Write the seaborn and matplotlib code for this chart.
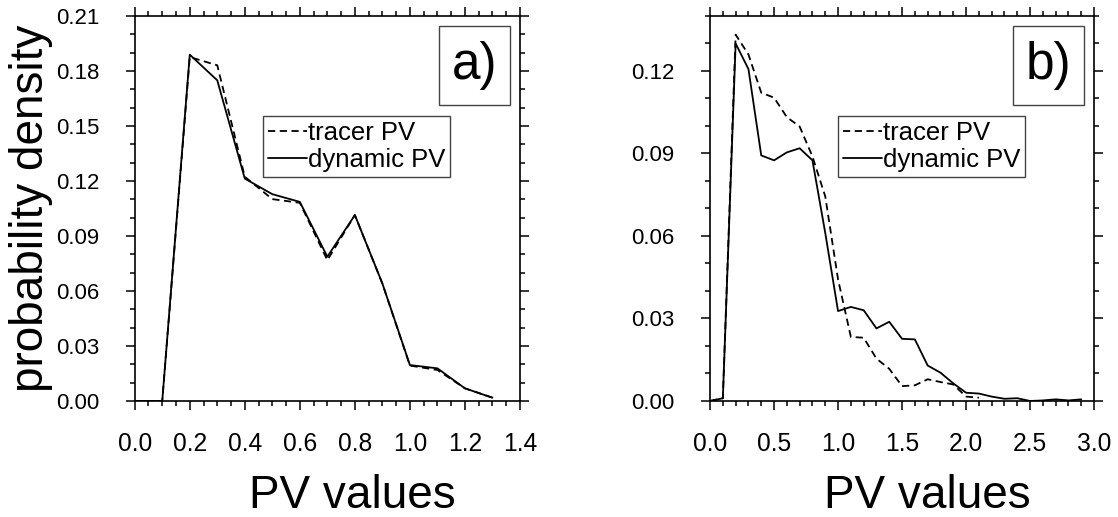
import matplotlib
matplotlib.use("Agg")
import matplotlib.pyplot as plt
import matplotlib.ticker as mticker
from matplotlib.patches import Rectangle
import seaborn as sns
import pandas as pd

# ---------------- data ----------------
pv_a = [0.0, 0.1, 0.2, 0.3, 0.4, 0.5, 0.6, 0.7, 0.8, 0.9, 1.0, 1.1, 1.2, 1.3]
tracer_a = [0.0, 0.0, 0.1876, 0.1831, 0.1223, 0.1101, 0.1081, 0.0768, 0.1014,
            0.0640, 0.0193, 0.0169, 0.0069, 0.0018]
dynamic_a = [0.0, 0.0, 0.1889, 0.1749, 0.1213, 0.1128, 0.1086, 0.0787, 0.1014,
             0.0641, 0.0196, 0.0178, 0.0069, 0.0018]

pv_b_tracer = [0.0, 0.1, 0.2, 0.3, 0.4, 0.5, 0.6, 0.7, 0.8, 0.9, 1.0, 1.1,
               1.2, 1.3, 1.4, 1.5, 1.6, 1.7, 1.8, 1.9, 2.0, 2.1]
tracer_b = [0.0, 0.001, 0.1332, 0.1260, 0.1121, 0.1103, 0.1032, 0.0998, 0.0889,
            0.0744, 0.0442, 0.0233, 0.0230, 0.0154, 0.0117, 0.0054, 0.0057,
            0.0079, 0.0069, 0.0060, 0.0016, 0.0012]
pv_b_dynamic = [0.0, 0.1, 0.2, 0.3, 0.4, 0.5, 0.6, 0.7, 0.8, 0.9, 1.0, 1.1,
                1.2, 1.3, 1.4, 1.5, 1.6, 1.7, 1.8, 1.9, 2.0, 2.1, 2.2, 2.3,
                2.4, 2.5, 2.6, 2.7, 2.8, 2.9]
dynamic_b = [0.0, 0.001, 0.1300, 0.1207, 0.0893, 0.0875, 0.0904, 0.0919, 0.0875,
             0.0611, 0.0327, 0.0342, 0.0330, 0.0264, 0.0288, 0.0226, 0.0224,
             0.0129, 0.0103, 0.0064, 0.0030, 0.0027, 0.0016, 0.0008, 0.0010,
             0.0000, 0.0002, 0.0006, 0.0002, 0.0006]

series_labels = ["tracer PV", "dynamic PV"]
panel_labels = ["a)", "b)"]
x_label = "PV values"
y_label = "probability density"

# ---------------- style ----------------
sns.set_theme(style="ticks")
plt.rcParams["font.family"] = ["Liberation Sans", "DejaVu Sans"]
plt.rcParams["axes.linewidth"] = 1.2
for key in ["text.color", "axes.labelcolor", "xtick.color", "ytick.color",
            "axes.edgecolor"]:
    plt.rcParams[key] = "black"

fig = plt.figure(figsize=(11.18, 5.17), dpi=100)
ax_a = fig.add_axes([0.1205, 0.2244, 0.3446, 0.7447])
ax_b = fig.add_axes([0.6351, 0.2244, 0.3435, 0.7447])

dash = (0, (4, 2.5))

def draw(ax, xt, yt, xd, yd):
    sns.lineplot(x=xt, y=yt, ax=ax, color="black", lw=1.3, linestyle=dash,
                 label=series_labels[0])
    sns.lineplot(x=xd, y=yd, ax=ax, color="black", lw=1.3, linestyle="-",
                 label=series_labels[1])

draw(ax_a, pv_a, tracer_a, pv_a, dynamic_a)
draw(ax_b, pv_b_tracer, tracer_b, pv_b_dynamic, dynamic_b)

# axis limits / ticks
ax_a.set_xlim(0, 1.4)
ax_a.set_ylim(0, 0.21)
ax_a.xaxis.set_major_locator(mticker.MultipleLocator(0.2))
ax_a.xaxis.set_minor_locator(mticker.MultipleLocator(0.05))

ax_b.set_xlim(0, 3.0)
ax_b.set_ylim(0, 0.14)
ax_b.xaxis.set_major_locator(mticker.MultipleLocator(0.5))
ax_b.xaxis.set_minor_locator(mticker.MultipleLocator(0.1))

for ax, lab in zip([ax_a, ax_b], panel_labels):
    ax.yaxis.set_major_locator(mticker.MultipleLocator(0.03))
    ax.yaxis.set_minor_locator(mticker.MultipleLocator(0.01))
    ax.xaxis.set_major_formatter(mticker.FormatStrFormatter("%.1f"))
    ax.yaxis.set_major_formatter(mticker.FormatStrFormatter("%.2f"))
    ax.tick_params(which="both", direction="out", top=True, right=True,
                   color="black", labelcolor="black", width=1.1)
    ax.tick_params(which="major", length=6.5)
    ax.tick_params(which="minor", length=3.6)
    ax.tick_params(axis="x", which="major", labelsize=17.7, pad=16)
    ax.tick_params(axis="y", which="major", labelsize=16, pad=19)
    for s in ax.spines.values():
        s.set_color("black")
        s.set_linewidth(1.2)
    ax.set_xlabel(x_label, fontsize=33, color="black")
    ax.xaxis.set_label_coords(0.566, -0.19)
    ax.set_ylabel("")

    leg = ax.legend(loc="upper left", bbox_to_anchor=(0.333, 0.740),
                    fontsize=18.5, frameon=True, fancybox=False,
                    handlelength=1.5, handletextpad=0.05, borderpad=0.2,
                    labelspacing=0.1, borderaxespad=0.0, labelcolor="black")
    fr = leg.get_frame()
    fr.set_edgecolor("#444444")
    fr.set_linewidth(1.0)
    fr.set_alpha(1)

    ax.add_patch(Rectangle((0.790, 0.769), 0.184, 0.205, transform=ax.transAxes,
                           fill=False, edgecolor="#444444", lw=1.0, zorder=5))
    ax.text(0.882, 0.8715, lab, transform=ax.transAxes, fontsize=37,
            ha="center", va="center", color="black", zorder=6)

ax_a.set_ylabel(y_label, fontsize=33, color="black")
ax_a.yaxis.set_label_coords(-0.213, 0.5)

fig.savefig("out.png", dpi=100)
